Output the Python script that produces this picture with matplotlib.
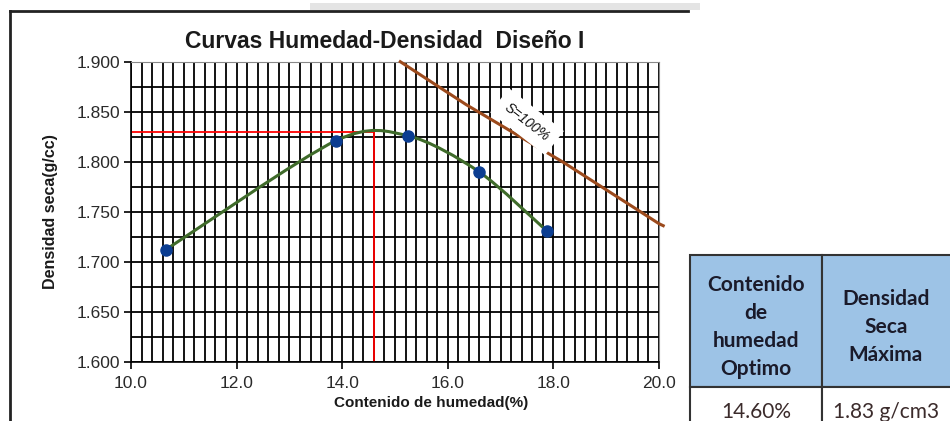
import matplotlib
matplotlib.use("Agg")
import matplotlib.pyplot as plt
import numpy as np
from matplotlib.path import Path
from matplotlib.patches import PathPatch, Rectangle
from matplotlib.lines import Line2D
from matplotlib.ticker import MultipleLocator, FormatStrFormatter

# ---- data ----
humedad = [10.66, 13.88, 15.24, 16.59, 17.87]
densidad = [1.712, 1.821, 1.826, 1.790, 1.731]
sat_x = [15.1, 16.35, 18.2, 19.5, 20.0, 20.08]
sat_y = [1.900, 1.857, 1.799, 1.755, 1.738, 1.736]
w_opt = 14.60
d_max = 1.83
title = "Curvas Humedad-Densidad  Diseño I"
xlabel = "Contenido de humedad(%)"
ylabel = "Densidad seca(g/cc)"
sat_label = "S=100%"
tabla_head = ["Contenido\nde\nhumedad\nOptimo", "Densidad\nSeca\nMáxima"]
tabla_vals = ["14.60%", "1.83 g/cm3"]

plt.rcParams['font.family'] = ['Liberation Sans', 'DejaVu Sans']

fig = plt.figure(figsize=(9.5, 4.21), dpi=100)
W, H = 950, 421
def fx(px): return px / W
def fy(py): return 1 - py / H

ax = fig.add_axes([fx(131), fy(361.7), fx(659) - fx(131), fy(61.7) - fy(361.7)])
ax.set_xlim(10, 20)
ax.set_ylim(1.6, 1.9)
ax.xaxis.set_major_locator(MultipleLocator(2.0))
ax.xaxis.set_minor_locator(MultipleLocator(0.2))
ax.yaxis.set_major_locator(MultipleLocator(0.05))
ax.yaxis.set_minor_locator(MultipleLocator(0.025))
ax.xaxis.set_major_formatter(FormatStrFormatter('%.1f'))
ax.yaxis.set_major_formatter(FormatStrFormatter('%.3f'))
ax.grid(True, which='both', color='black', linewidth=1.3)
ax.set_axisbelow(True)
ax.tick_params(which='major', direction='out', length=5, width=1.2, labelsize=12.5,
               labelcolor='#2a2a2a', pad=3)
ax.tick_params(axis='x', which='major', pad=5)
ax.tick_params(which='minor', length=0)
for s in ['top', 'right']:
    ax.spines[s].set_color('#888888')
for s in ['left', 'bottom']:
    ax.spines[s].set_color('black')
    ax.spines[s].set_linewidth(1.2)

fig.text(fx(385), fy(41), title, fontsize=16.5, fontweight='bold', color='#1a1a1a',
         ha='center', va='center')
ax.set_xlabel(xlabel, fontsize=11, fontweight='bold', color='#1a1a1a')
ax.xaxis.set_label_coords((431 - 131) / 528, -(403 - 361.7) / 300)
ax.xaxis.label.set_va('center')
ax.set_ylabel(ylabel, fontsize=11.5, fontweight='bold', color='#1a1a1a')
ax.yaxis.set_label_coords(-(131 - 51) / 528, 0.5)
ax.yaxis.label.set_va('center')

# smooth (Catmull-Rom style Bezier) curve through the measured points
P = np.column_stack([humedad, densidad])
verts = [tuple(P[0])]
codes = [Path.MOVETO]
n = len(P)
for i in range(n - 1):
    p0 = P[i - 1] if i > 0 else P[i]
    p1 = P[i]
    p2 = P[i + 1]
    p3 = P[i + 2] if i + 2 < n else P[i + 1]
    c1 = p1 + (p2 - p0) / 7.0
    c2 = p2 - (p3 - p1) / 7.0
    verts += [tuple(c1), tuple(c2), tuple(p2)]
    codes += [Path.CURVE4] * 3
ax.add_patch(PathPatch(Path(verts, codes), facecolor='none', edgecolor='#3f6b2a',
                       linewidth=2.2, zorder=3))
ax.plot(humedad, densidad, linestyle='none', marker='o', markersize=8,
        color='#0b3d91', markeredgecolor='#0b3d91', zorder=4)

# optimum lines
ax.plot([10, w_opt], [d_max, d_max], color='red', linewidth=1.3, zorder=2.5)
ax.plot([w_opt, w_opt], [1.6, d_max], color='red', linewidth=1.3, zorder=2.5)

# saturation line
ax.plot(sat_x, sat_y, color='#9c4a1c', linewidth=2.2, zorder=3, clip_on=False)
ax.text(17.5, 1.840, sat_label, rotation=-38, fontsize=10, style='italic',
        ha='center', va='center', color='#111111', zorder=5,
        bbox=dict(facecolor='white', edgecolor='none', pad=6))

# outer chart frame
fig.add_artist(Line2D([fx(10), fx(10)], [fy(11), 0], color='#222222', linewidth=2))
fig.add_artist(Line2D([fx(10), fx(688)], [fy(11), fy(11)], color='#222222', linewidth=2))
fig.add_artist(Rectangle((fx(310), fy(10)), fx(700) - fx(310), fy(3) - fy(10),
                         facecolor='#e4e4e4', edgecolor='none'))

# table
x0, x1, x2 = 690, 822, 952
y0, y1, y2 = 255, 387, 430
for xa, xb in [(x0, x1), (x1, x2)]:
    fig.add_artist(Rectangle((fx(xa), fy(y1)), fx(xb) - fx(xa), fy(y0) - fy(y1),
                             facecolor='#9dc3e6', edgecolor='#333333', linewidth=1.5))
    fig.add_artist(Rectangle((fx(xa), fy(y2)), fx(xb) - fx(xa), fy(y1) - fy(y2),
                             facecolor='white', edgecolor='#333333', linewidth=1.5))
head_font = ['Lato', 'DejaVu Sans']
fig.text(fx((x0 + x1) / 2), fy(327), tabla_head[0], ha='center', va='center',
         fontsize=15, fontweight='bold', color='#1a1a2a', linespacing=1.5,
         family=head_font)
fig.text(fx((x1 + 950) / 2), fy(327), tabla_head[1], ha='center', va='center',
         fontsize=15, fontweight='bold', color='#1a1a2a', linespacing=1.5,
         family=head_font)
fig.text(fx((x0 + x1) / 2), fy(412), tabla_vals[0], ha='center', va='center',
         fontsize=15, color='#3b2b2b', family=head_font)
fig.text(fx((x1 + 950) / 2), fy(412), tabla_vals[1], ha='center', va='center',
         fontsize=15, color='#3b2b2b', family=head_font)

fig.savefig("out.png", dpi=100)
